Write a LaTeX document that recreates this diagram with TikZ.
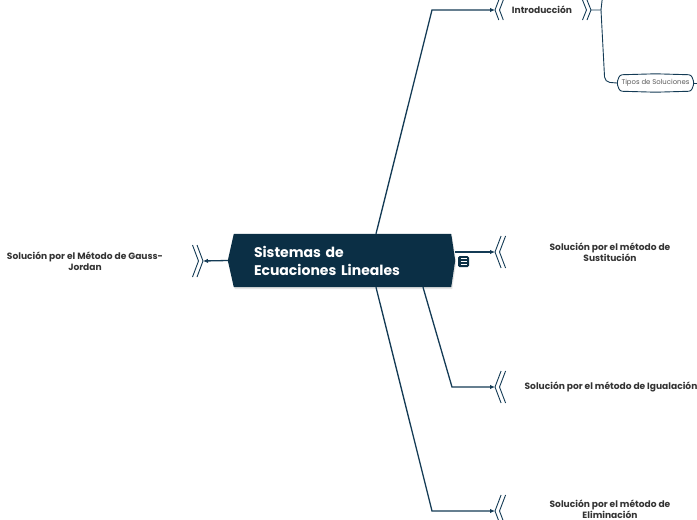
\documentclass[tikz,border=0pt]{standalone}
\usepackage{fontspec}
\setmainfont{Poppins}
\usetikzlibrary{arrows.meta,positioning,calc,backgrounds}
\definecolor{navy}{HTML}{0B2F45}
\definecolor{wire}{HTML}{143B55}
\definecolor{inkgrey}{HTML}{333333}
\definecolor{softgrey}{HTML}{5A5A5A}

\begin{document}
\begin{tikzpicture}[
    x=1pt, y=-1pt,
    >={Latex[length=5pt,width=4.5pt]},
    hub/.style    = {text=white, align=left, text width=175pt,
                     minimum width=227pt, minimum height=53pt,
                     inner xsep=26pt, inner ysep=0pt,
                     font=\fontsize{14}{18}\selectfont\bfseries},
    topic/.style  = {text=inkgrey, align=center, inner sep=1pt,
                     font=\fontsize{9.1}{11}\selectfont\bfseries},
    leaf/.style   = {text=softgrey, inner sep=0pt, minimum width=77pt,
                     minimum height=16pt, font=\fontsize{6.9}{8}\selectfont},
    link/.style   = {draw=wire, line width=1.3pt},
    chev/.style   = {draw=wire, line width=0.9pt},
  ]
  \useasboundingbox (0,0) rectangle (697,520);
  \clip (0,0) rectangle (697,520);

  % ===================================================================
  % Central topic
  % ===================================================================
  \node[hub] (hub) at (341.5,260.5) {Sistemas de\\Ecuaciones Lineales};
  \begin{scope}[on background layer]
    \fill[black!10]
      ($(hub.west)+(1,2)$) -- ($(hub.north west)+(7,2)$) -- ($(hub.north east)+(-3,2)$)
      -- ($(hub.east)+(1,2)$) -- ($(hub.south east)+(-3,2)$) -- ($(hub.south west)+(7,2)$) -- cycle;
    \fill[navy]
      (hub.west) -- ($(hub.north west)+(6,0)$) -- ($(hub.north east)+(-4,0)$)
      -- (hub.east) -- ($(hub.south east)+(-4,0)$) -- ($(hub.south west)+(6,0)$) -- cycle;
  \end{scope}

  % note icon beside the hub
  \node[fill=navy, rounded corners=1.5pt, minimum size=11pt, inner sep=0pt]
    (memo) at (463.5,261.5) {};
  \foreach \dy in {-2.6,0,2.6}
    \draw[white, line width=0.9pt] ($(memo.center)+(-3,\dy)$) -- ++(6,0);

  % ===================================================================
  % Subtopics (chevron entry points + labels)
  % ===================================================================
  \coordinate (intro-in) at (495,10);
  \coordinate (sust-in)  at (495,252);
  \coordinate (igual-in) at (495,387);
  \coordinate (elim-in)  at (495,511);
  \coordinate (gauss-in) at (203,261);

  \node[topic] (intro) at ($(intro-in)+(47,0)$) {Introducción};
  \node[topic] (sust)  at ($(sust-in)+(115,0)$)
    {Solución por el método de\\Sustitución};
  \node[topic] (igual) at ($(igual-in)+(116,0)$)
    {Solución por el método de Igualación};
  \node[topic] (elim)  at ($(elim-in)+(115,-2)$)
    {Solución por el método de\\Eliminación};
  \node[topic] (gauss) at ($(gauss-in)+(-118,0)$)
    {Solución por el Método de Gauss-\\Jordan};

  % double chevrons on the entry side
  \foreach \n/\h in {intro/10, sust/16, igual/16, elim/16} {
    \draw[chev] ($(\n-in)+(0.38*\h,-\h)$) -- (\n-in) -- ($(\n-in)+(0.38*\h,\h)$);
    \draw[chev] ($(\n-in)+(0.38*\h+4.5,-\h)$) -- ($(\n-in)+(4.5,0)$)
      -- ($(\n-in)+(0.38*\h+4.5,\h)$);
  }
  \draw[chev] ($(gauss-in)+(-6,-16)$) -- (gauss-in) -- ($(gauss-in)+(-6,16)$);
  \draw[chev] ($(gauss-in)+(-10.5,-16)$) -- ($(gauss-in)+(-4.5,0)$)
    -- ($(gauss-in)+(-10.5,16)$);

  % chevrons on the far side of Introducción
  \coordinate (intro-out) at (591,10);
  \draw[chev] ($(intro-out)+(-4,-10)$) -- (intro-out) -- ($(intro-out)+(-4,10)$);
  \draw[chev] ($(intro-out)+(-8.5,-10)$) -- ($(intro-out)+(-4.5,0)$)
    -- ($(intro-out)+(-8.5,10)$);

  % ===================================================================
  % Connectors from the hub
  % ===================================================================
  \draw[link, ->] ($(hub.north)+(34.5,0)$) -- ($(intro-in)+(-63,0)$) -- (intro-in);
  \draw[link, ->] (sust-in -| hub.east) -- (sust-in);
  \draw[link, ->] ($(hub.south)+(81.5,0)$) -- ($(igual-in)+(-43,0)$) -- (igual-in);
  \draw[link, ->] ($(hub.south)+(34.5,0)$) -- ($(elim-in)+(-63,0)$) -- (elim-in);
  \draw[link, ->] (hub.west) -- (gauss-in);

  % ===================================================================
  % Introducción branch: fork up (off page) and down to Tipos
  % ===================================================================
  \node[leaf] (tipos) at (655.5,83) {Tipos de Soluciones};
  \draw[chev, fill=white, rounded corners=2.5pt]
    (tipos.west) -- ($(tipos.north west)+(3,0)$) -- ($(tipos.north)+(0,-1)$)
    -- ($(tipos.north east)+(-3,0)$) -- (tipos.east) -- ($(tipos.south east)+(-3,0)$)
    -- ($(tipos.south)+(0,1)$) -- ($(tipos.south west)+(3,0)$) -- cycle;
  \node[leaf] at (tipos) {Tipos de Soluciones};

  \coordinate (intro-fork) at (601,10);
  \coordinate (upper-leaf) at (603,-8);
  \coordinate (tipos-out)  at ($(tipos.east)+(6,0)$);
  \draw[chev] (intro-out) -- (intro-fork) -- (upper-leaf);
  \draw[chev, rounded corners=5pt]
    (intro-fork) -- ($(tipos.west)+(-12,-1)$) -- (tipos.west);
  \draw[chev] (tipos.east) -- (tipos-out);

\end{tikzpicture}
\end{document}
